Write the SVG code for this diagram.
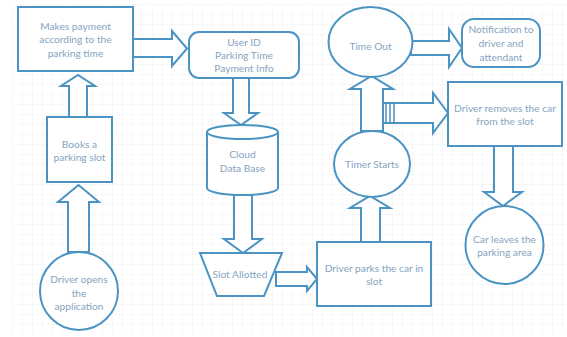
<svg xmlns="http://www.w3.org/2000/svg" width="567" height="337" viewBox="0 0 567 337">
  <defs>
    <pattern id="grid" x="12" y="4" width="10" height="10" patternUnits="userSpaceOnUse">
      <path d="M0 0H10M0 0V10" fill="none" stroke="#eeeff1" stroke-width="1"/>
    </pattern>
    <style>
      .shape { fill: #ffffff; stroke: #4a93c3; stroke-width: 2; }
      .arrow { fill: #ffffff; stroke: #4a93c3; stroke-width: 2; stroke-linejoin: miter; }
      .tail { stroke: #4a93c3; stroke-width: 1.5; }
      .label { font-family: Lato, "Open Sans", sans-serif; font-size: 10.2px; fill: #86a4bf; text-anchor: middle; }
    </style>
  </defs>

  <rect width="567" height="337" fill="#ffffff"/>
  <rect x="12" y="4" width="555" height="329" fill="url(#grid)"/>

  <!-- connectors: block arrows -->
  <g id="connectors">
    <polygon class="arrow" points="133,39 172,39 172,31 187,48.5 172,66 172,57 133,57"/>
    <polygon class="arrow" points="69,117 69,86 61,86 78,75 95,86 87,86 87,117"/>
    <polygon class="arrow" points="68,252 68,202 58,202 78.5,185 99,202 89,202 89,252"/>
    <polygon class="arrow" points="233,78 233,113 224,113 241,125 258,113 249,113 249,78"/>
    <polygon class="arrow" points="234,195 234,239 224,239 243,253 262,239 252,239 252,195"/>
    <polygon class="arrow" points="276,272 307,272 307,267 317,279 307,291 307,286 276,286"/>
    <polygon class="arrow" points="361,242 361,208 350,208 370,196 390,208 380,208 380,242"/>
    <polygon class="arrow" points="361,131 361,89 350,89 371.5,76 393,89 383,89 383,131"/>
    <polygon class="arrow" points="411,41 449,41 449,29 462,48 449,67 449,55 411,55"/>
    <polygon class="arrow" points="383,103 433,103 433,93 448,113 433,133 433,123 383,123"/>
    <line class="tail" x1="386" y1="103" x2="386" y2="123"/>
    <line class="tail" x1="390" y1="103" x2="390" y2="123"/>
    <line class="tail" x1="394" y1="103" x2="394" y2="123"/>
    <polygon class="arrow" points="494,146 494,192 484,192 503,206 522,192 513,192 513,146"/>
  </g>

  <g id="make-payment">
    <rect class="shape" x="18" y="7" width="115" height="64"/>
    <text class="label" x="75.5" y="30">Makes payment</text>
    <text class="label" x="75.5" y="43">according to the</text>
    <text class="label" x="75.5" y="57">parking time</text>
  </g>

  <g id="books-slot">
    <rect class="shape" x="47" y="117" width="65" height="65"/>
    <text class="label" x="79.5" y="148">Books a</text>
    <text class="label" x="79.5" y="161">parking slot</text>
  </g>

  <g id="driver-opens">
    <circle class="shape" cx="79" cy="291" r="39"/>
    <text class="label" x="79" y="283">Driver opens</text>
    <text class="label" x="79" y="297">the</text>
    <text class="label" x="79" y="310">application</text>
  </g>

  <g id="user-info">
    <rect class="shape" x="189" y="32" width="110" height="46" rx="10" ry="10"/>
    <text class="label" x="244" y="46">User ID</text>
    <text class="label" x="244" y="59">Parking Time</text>
    <text class="label" x="244" y="72">Payment Info</text>
  </g>

  <g id="cloud-db">
    <path class="shape" d="M207,132 L207,188 A35.5,7 0 0 0 278,188 L278,132 A35.5,7 0 0 0 207,132 Z"/>
    <path class="shape" fill="none" d="M207,132 A35.5,7 0 0 0 278,132"/>
    <text class="label" x="242.5" y="158">Cloud</text>
    <text class="label" x="242.5" y="172">Data Base</text>
  </g>

  <g id="slot-allotted">
    <polygon class="shape" points="200,253 282,253 264,296 217,296"/>
    <text class="label" x="240" y="278">Slot Allotted</text>
  </g>

  <g id="driver-parks">
    <rect class="shape" x="317" y="242" width="114" height="64"/>
    <text class="label" x="374" y="272">Driver parks the car in</text>
    <text class="label" x="374" y="285">slot</text>
  </g>

  <g id="timer-starts">
    <ellipse class="shape" cx="372" cy="164" rx="38" ry="33"/>
    <text class="label" x="372" y="168">Timer Starts</text>
  </g>

  <g id="time-out">
    <ellipse class="shape" cx="370.5" cy="42" rx="42" ry="35"/>
    <text class="label" x="370.5" y="50">Time Out</text>
  </g>

  <g id="notification">
    <rect class="shape" x="462" y="19" width="78" height="48" rx="12" ry="12"/>
    <text class="label" x="501" y="33">Notification to</text>
    <text class="label" x="501" y="47">driver and</text>
    <text class="label" x="501" y="61">attendant</text>
  </g>

  <g id="driver-removes">
    <rect class="shape" x="448" y="82" width="114" height="64"/>
    <text class="label" x="505" y="112">Driver removes the car</text>
    <text class="label" x="505" y="125">from the slot</text>
  </g>

  <g id="car-leaves">
    <circle class="shape" cx="504.5" cy="245" r="39"/>
    <text class="label" x="504.5" y="243">Car leaves the</text>
    <text class="label" x="504.5" y="256">parking area</text>
  </g>
</svg>
